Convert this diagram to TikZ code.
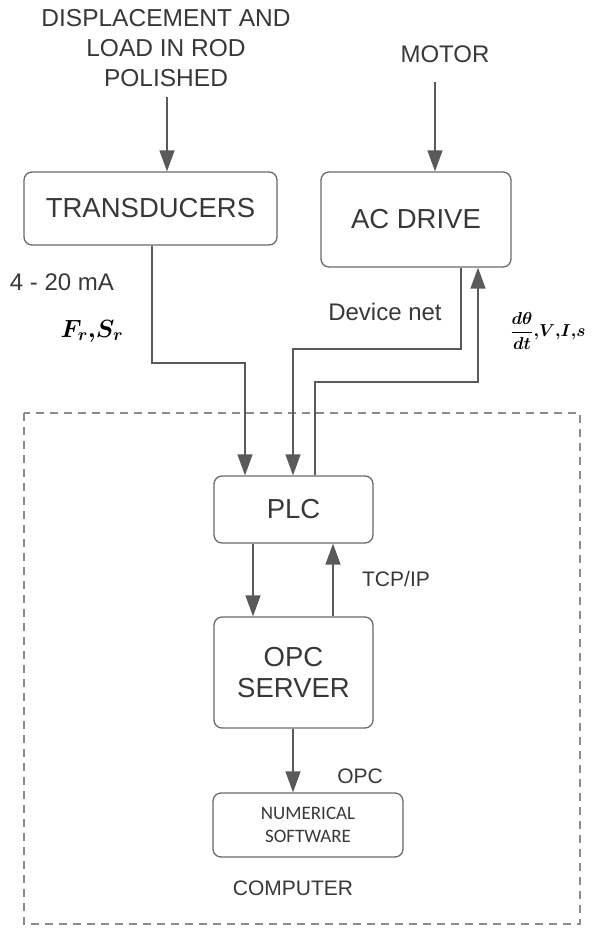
\documentclass[tikz,border=0pt]{standalone}
\usepackage{fontspec}
\usepackage{amsmath,bm}
\setmainfont{Liberation Sans}
\newfontfamily\calfont{Carlito}
\usetikzlibrary{arrows.meta,calc}
\definecolor{linegray}{HTML}{5A5A5A}
\definecolor{boxgray}{HTML}{6A6A6A}
\definecolor{txtgray}{HTML}{383838}
\tikzset{
  blockbox/.style={draw=boxgray, line width=1.3pt, rounded corners=8pt,
    inner sep=0pt, align=center, text=txtgray,
    font=\fontsize{27.5}{31}\selectfont},
  plaintext/.style={inner sep=0pt, align=center, text=txtgray,
    font=\fontsize{24}{30}\selectfont},
  arr/.style={draw=linegray, line width=1.4pt,
    -{Triangle[width=15pt,length=21pt]}},
  frame/.style={draw=linegray!70, line width=1.3pt,
    dash pattern=on 8pt off 6pt}
}
\begin{document}
\begin{tikzpicture}[x=1pt,y=-1pt]
\useasboundingbox (0,0) rectangle (593,929);

% blocks
\node[blockbox, minimum width=253pt, minimum height=73pt] (trans) at (150.5,208.5) {TRANSDUCERS};
\node[blockbox, minimum width=190pt, minimum height=95pt] (acd) at (416,219.5) {AC DRIVE};
\node[blockbox, minimum width=159pt, minimum height=67pt] (plc) at (293.5,509.5) {PLC};
\node[blockbox, minimum width=159pt, minimum height=111pt] (opc) at (293.5,672.5) {OPC\\SERVER};
\node[blockbox, minimum width=190pt, minimum height=64pt,
      font=\calfont\fontsize{19}{23}\selectfont] (num) at (308,825) {NUMERICAL\\SOFTWARE};

% computer boundary
\draw[frame] (24,413) rectangle (580,924);

% outside inputs
\node[plaintext, font=\fontsize{24.5}{30}\selectfont] (disp) at (166,48) {DISPLACEMENT AND\\LOAD IN ROD\\POLISHED};
\node[plaintext] (motor) at (445,54) {MOTOR};
\coordinate (dispend) at (167,97);
\coordinate (motend) at (435,82);
\draw[arr] (dispend) -- (dispend |- trans.north);
\draw[arr] (motend) -- (motend |- acd.north);

% signal lines
\draw[arr] (trans.south -| 152,0) |- (245,363) -- (plc.north -| 245,0);
\draw[arr] (acd.south -| 461,0) |- (293,349) -- (plc.north -| 293,0);
\draw[arr] (plc.north -| 315,0) |- (478,382) -- (acd.south -| 478,0);
\draw[arr] (plc.south -| 253,0) -- (opc.north -| 253,0);
\draw[arr] (opc.north -| 333,0) -- (plc.south -| 333,0);
\draw[arr] (opc.south -| 293,0) -- (num.north -| 293,0);

% labels
\node[plaintext] (ma) at (62,282) {4 - 20 mA};
\node[inner sep=0pt, text=black] (frs) at (92,331) {\fontsize{27}{30}\selectfont$\bm{F_r{,}S_r}$};
\node[plaintext] (dnet) at (385,312) {Device net};
\node[inner sep=0pt, text=black] (dvis) at (548,331) {\fontsize{19}{22}\selectfont$\bm{\dfrac{d\theta}{dt}{,}V{,}I{,}s}$};
\node[plaintext, font=\fontsize{21}{26}\selectfont] (tcp) at (396,579) {TCP/IP};
\node[plaintext, font=\fontsize{21}{26}\selectfont] (opcl) at (360,776) {OPC};
\node[plaintext, font=\fontsize{21}{26}\selectfont] (comp) at (293,888) {COMPUTER};
\end{tikzpicture}
\end{document}
